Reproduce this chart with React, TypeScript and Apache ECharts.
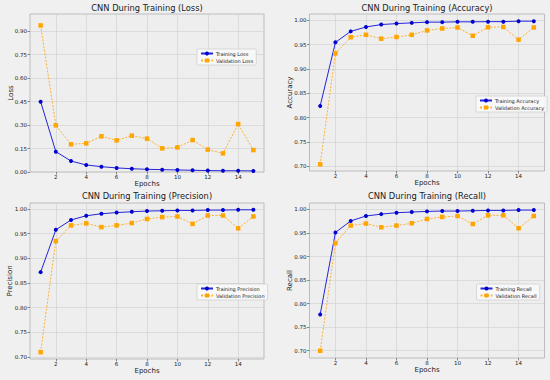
import React, { useEffect, useRef } from "react";
import * as echarts from "echarts";

const epochs = [1, 2, 3, 4, 5, 6, 7, 8, 9, 10, 11, 12, 13, 14, 15];
const xTicks = [2, 4, 6, 8, 10, 12, 14];

const trainLoss = [0.449, 0.13, 0.07, 0.045, 0.034, 0.026, 0.021, 0.017, 0.015, 0.013, 0.011, 0.009, 0.008, 0.008, 0.007];
const valLoss = [0.936, 0.298, 0.177, 0.183, 0.228, 0.202, 0.232, 0.213, 0.151, 0.157, 0.204, 0.143, 0.119, 0.306, 0.14];

const trainAcc = [0.824, 0.9545, 0.977, 0.986, 0.991, 0.993, 0.9945, 0.996, 0.996, 0.9966, 0.9966, 0.997, 0.997, 0.998, 0.998];
const valAcc = [0.704, 0.932, 0.965, 0.97, 0.962, 0.9655, 0.97, 0.979, 0.983, 0.985, 0.968, 0.9855, 0.986, 0.96, 0.985];

const trainPrec = [0.872, 0.958, 0.978, 0.9865, 0.9905, 0.993, 0.9946, 0.996, 0.9966, 0.9973, 0.9973, 0.998, 0.998, 0.9986, 0.9986];
const valPrec = [0.7095, 0.935, 0.967, 0.971, 0.9634, 0.967, 0.9716, 0.98, 0.9837, 0.985, 0.97, 0.987, 0.987, 0.961, 0.985];

const trainRec = [0.777, 0.951, 0.9755, 0.986, 0.99, 0.993, 0.9944, 0.9958, 0.9965, 0.9965, 0.9972, 0.9979, 0.9979, 0.9986, 0.9986];
const valRec = [0.7, 0.9285, 0.9657, 0.97, 0.962, 0.9657, 0.9706, 0.9797, 0.984, 0.986, 0.969, 0.9874, 0.9874, 0.96, 0.986];

const lossTicks = [0, 0.15, 0.3, 0.45, 0.6, 0.75, 0.9];
const metricTicks = [0.7, 0.75, 0.8, 0.85, 0.9, 0.95, 1.0];

const FONT = "DejaVu Sans";

type Panel = {
  title: string;
  yName: string;
  trainName: string;
  valName: string;
  train: number[];
  val: number[];
  yMin: number;
  yMax: number;
  yTicks: number[];
  grid: { left: number; top: number; width: number; height: number };
  legend: { left: number; top: number };
  titleY: number;
  nameGap: number;
};

const panels: Panel[] = [
  {
    title: "CNN During Training (Loss)",
    yName: "Loss",
    trainName: "Training Loss",
    valName: "Validation Loss",
    train: trainLoss,
    val: valLoss,
    yMin: 0,
    yMax: 1.009,
    yTicks: lossTicks,
    grid: { left: 30, top: 14, width: 234, height: 158 },
    legend: { left: 197, top: 49 },
    titleY: 4,
    nameGap: 16,
  },
  {
    title: "CNN During Training (Accuracy)",
    yName: "Accuracy",
    trainName: "Training Accuracy",
    valName: "Validation Accuracy",
    train: trainAcc,
    val: valAcc,
    yMin: 0.6904,
    yMax: 1.0127,
    yTicks: metricTicks,
    grid: { left: 309.5, top: 14, width: 235, height: 157 },
    legend: { left: 476, top: 96 },
    titleY: 4,
    nameGap: 16,
  },
  {
    title: "CNN During Training (Precision)",
    yName: "Precision",
    trainName: "Training Precision",
    valName: "Validation Precision",
    train: trainPrec,
    val: valPrec,
    yMin: 0.6956,
    yMax: 1.0124,
    yTicks: metricTicks,
    grid: { left: 30, top: 203, width: 234, height: 156 },
    legend: { left: 197, top: 284 },
    titleY: 192,
    nameGap: 17,
  },
  {
    title: "CNN During Training (Recall)",
    yName: "Recall",
    trainName: "Training Recall",
    valName: "Validation Recall",
    train: trainRec,
    val: valRec,
    yMin: 0.6846,
    yMax: 1.0136,
    yTicks: metricTicks,
    grid: { left: 309.5, top: 203, width: 235, height: 155 },
    legend: { left: 476.5, top: 284 },
    titleY: 192,
    nameGap: 16,
  },
];

export default function App() {
  const ref = useRef<HTMLDivElement>(null);
  useEffect(() => {
    document.body.style.margin = "0";
    document.body.style.background = "#f0f0f0";
    const chart = echarts.init(ref.current!, null, { renderer: "svg" });

    const grid: any[] = [];
    const xAxis: any[] = [];
    const yAxis: any[] = [];
    const series: any[] = [];
    const legend: any[] = [];
    const title: any[] = [];

    panels.forEach((p, i) => {
      grid.push({
        ...p.grid,
        show: true,
        backgroundColor: "#eeeeee",
        borderColor: "#bcbcbc",
        borderWidth: 1,
      });
      xAxis.push({
        type: "value",
        gridIndex: i,
        min: 0.3,
        max: 15.7,
        name: "Epochs",
        nameLocation: "middle",
        nameGap: 8.5,
        nameMoveOverlap: false,
        nameTextStyle: { fontFamily: FONT, fontSize: 7, color: "#222", verticalAlign: "top", padding: 0 },
        axisLine: { show: false },
        axisTick: { show: true, length: 2.5, lineStyle: { color: "#444", width: 0.6 }, customValues: xTicks },
        axisLabel: {
          fontFamily: FONT,
          fontSize: 5.5,
          color: "#222",
          margin: 2,
          customValues: xTicks,
          formatter: (v: number) => String(v),
        },
        splitLine: { show: true, lineStyle: { color: "#d3d3d3", width: 0.7 } },
      });
      yAxis.push({
        type: "value",
        gridIndex: i,
        min: p.yMin,
        max: p.yMax,
        name: p.yName,
        nameLocation: "middle",
        nameGap: p.nameGap,
        nameMoveOverlap: false,
        nameRotate: 90,
        nameTextStyle: { fontFamily: FONT, fontSize: 7, color: "#222" },
        axisLine: { show: false },
        axisTick: { show: true, length: 2.5, lineStyle: { color: "#444", width: 0.6 }, customValues: p.yTicks },
        axisLabel: {
          fontFamily: FONT,
          fontSize: 5.5,
          color: "#222",
          margin: 3,
          customValues: p.yTicks,
          formatter: (v: number) => v.toFixed(2),
        },
        splitLine: { show: true, lineStyle: { color: "#d3d3d3", width: 0.7 } },
      });
      series.push({
        type: "line",
        name: p.trainName,
        xAxisIndex: i,
        yAxisIndex: i,
        data: epochs.map((e, k) => [e, p.train[k]]),
        symbol: "circle",
        symbolSize: 4,
        lineStyle: { color: "#2424d8", width: 1 },
        itemStyle: { color: "#0000d0" },
      });
      series.push({
        type: "line",
        name: p.valName,
        xAxisIndex: i,
        yAxisIndex: i,
        data: epochs.map((e, k) => [e, p.val[k]]),
        symbol: "rect",
        symbolSize: 4.5,
        lineStyle: { color: "#ffb030", width: 1, type: [2, 1.5] },
        itemStyle: { color: "#ffa500" },
      });
      legend.push({
        data: [p.trainName, p.valName],
        left: p.legend.left,
        top: p.legend.top,
        orient: "vertical",
        itemWidth: 12,
        itemHeight: 5,
        itemGap: 2,
        padding: [2, 3, 2, 3],
        backgroundColor: "rgba(248,248,248,0.9)",
        borderColor: "#cccccc",
        borderWidth: 0.7,
        borderRadius: 1,
        textStyle: { fontFamily: FONT, fontSize: 5, color: "#222", padding: [0, 0, 0, -2] },
        selectedMode: false,
      });
      title.push({
        text: p.title,
        left: p.grid.left + p.grid.width / 2,
        top: p.titleY,
        textAlign: "center",
        padding: 0,
        textStyle: { fontFamily: FONT, fontSize: 8.3, fontWeight: "normal", color: "#222" },
      });
    });

    chart.setOption({
      animation: false,
      backgroundColor: "#f0f0f0",
      title,
      grid,
      xAxis,
      yAxis,
      legend,
      series,
    });
    return () => chart.dispose();
  }, []);
  return <div ref={ref} style={{ width: 550, height: 380 }} />;
}
